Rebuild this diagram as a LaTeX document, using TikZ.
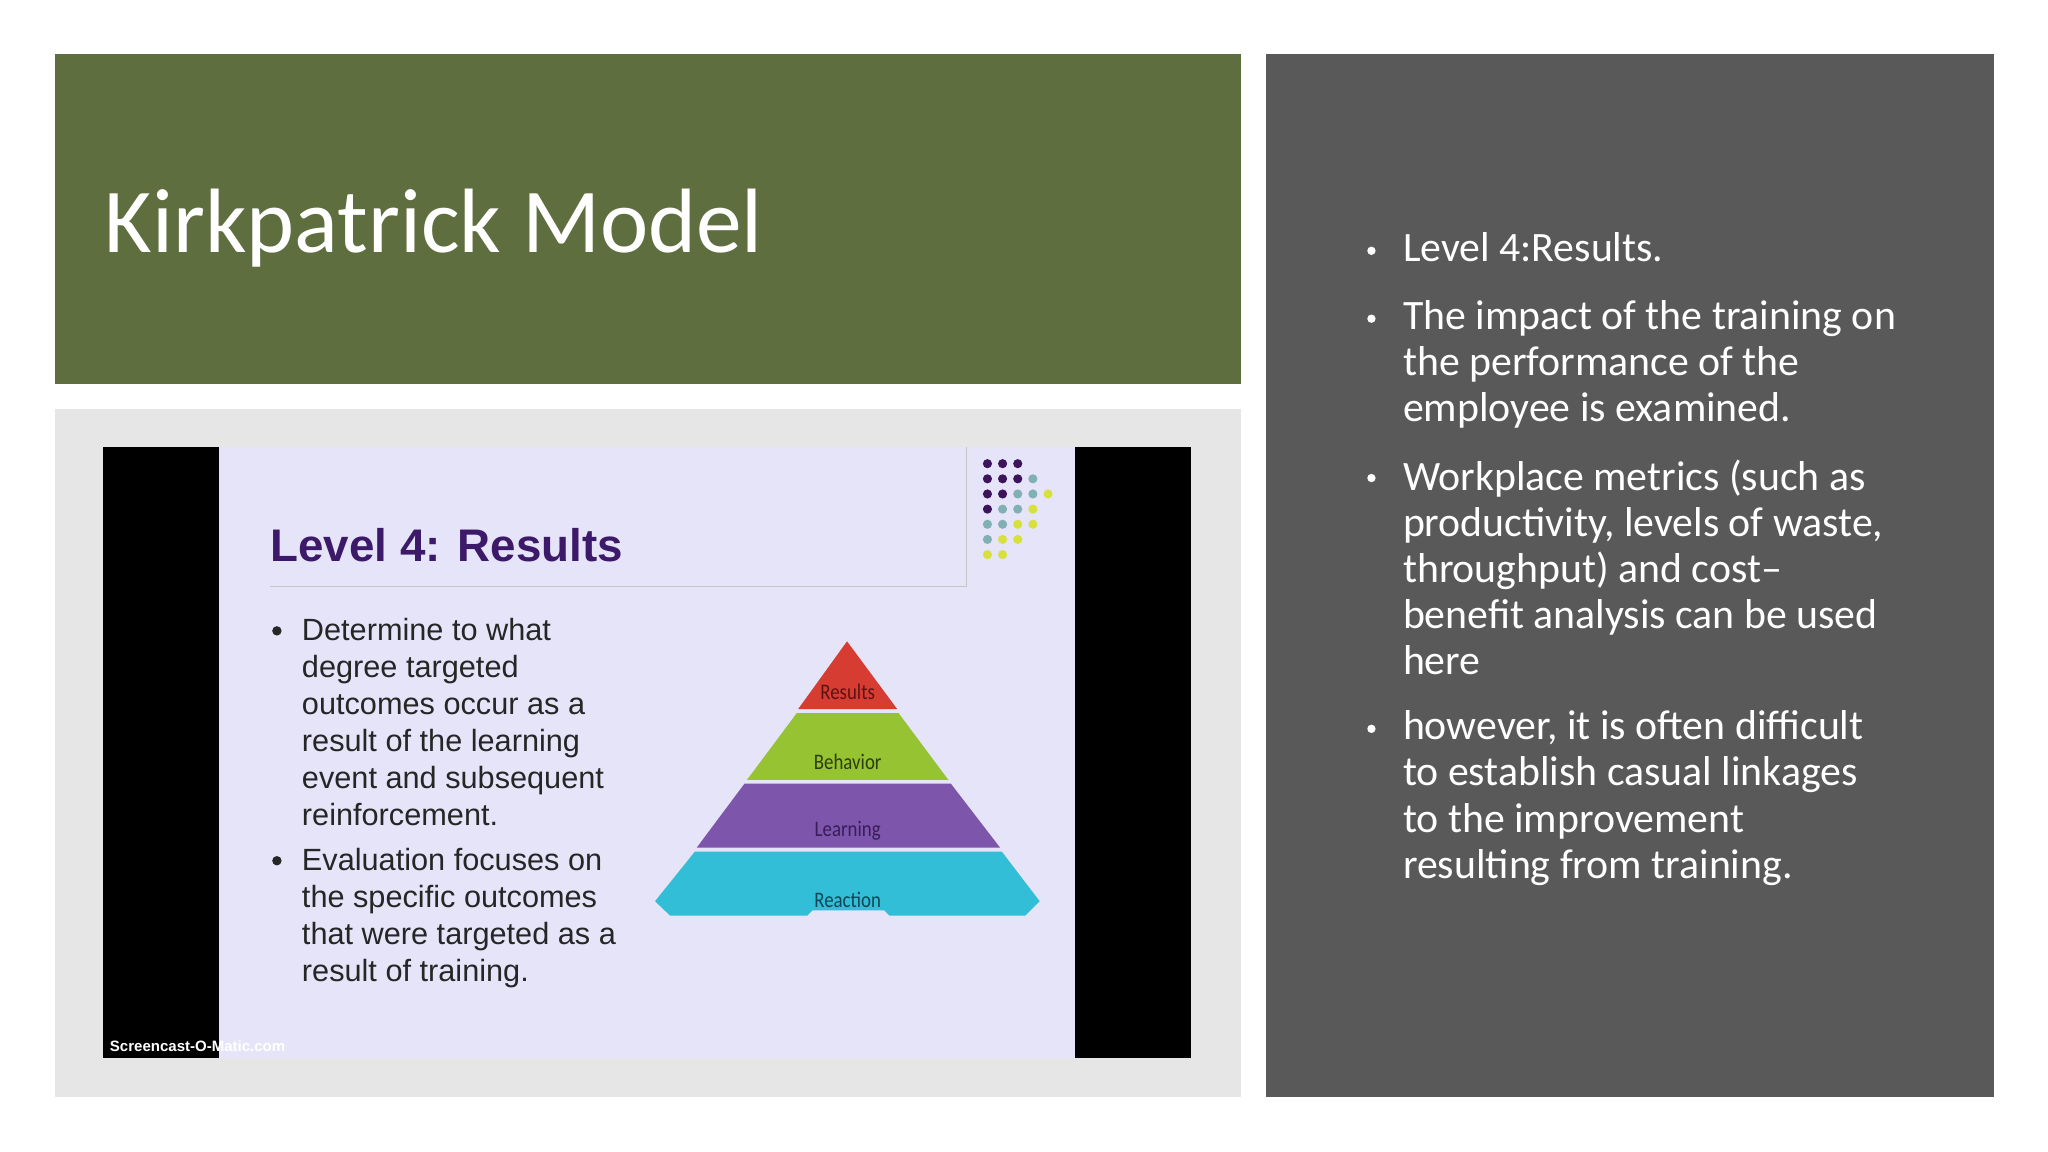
\documentclass[tikz,border=0pt]{standalone}
\usepackage{fontspec}
\setmainfont{Carlito}
\newfontfamily\arialf{Liberation Sans}
\definecolor{dcP}{RGB}{60,20,90}
\definecolor{dcT}{RGB}{130,175,180}
\definecolor{dcY}{RGB}{215,225,60}
\begin{document}
\begin{tikzpicture}[x=1pt,y=-1pt,
  wtxt/.style={text=white,anchor=north west,inner sep=0pt,align=left,font=\fontsize{32}{35.3}\selectfont},
  stxt/.style={text=black!85,anchor=north west,inner sep=0pt,align=left,font=\arialf\fontsize{23.5}{28.3}\selectfont},
  plab/.style={inner sep=0pt,font=\fontsize{17}{17}\selectfont,xscale=0.85},
  dot/.style={circle,inner sep=0pt,minimum size=7pt}]
\useasboundingbox (0,0) rectangle (1568,882);
\fill[white] (0,0) rectangle (1568,882);
% panels
\fill[fill={rgb,255:red,94;green,110;blue,62}] (42,41) rectangle (950,294);
\node[text=white,anchor=base west,inner sep=0pt,font=\fontsize{70}{70}\selectfont] (title) at (80,193) {Kirkpatrick Model};
\fill[fill={rgb,255:red,230;green,230;blue,230}] (42,313) rectangle (950,840);
\fill[fill={rgb,255:red,89;green,89;blue,89}] (969,41) rectangle (1527,840);
% screenshot
\fill[black] (79,342) rectangle (912,810);
\fill[fill={rgb,255:red,230;green,228;blue,248}] (168,342) rectangle (823,810);
\draw[gray!45,line width=1pt] (207,449) -- (740,449) -- (740,342);
\node[text={rgb,255:red,60;green,25;blue,105},anchor=base west,inner sep=0pt,font=\arialf\bfseries\fontsize{35}{35}\selectfont] (st) at (207,430) {Level 4: Results};
% dots
\foreach \r/\cs in {0/{P,P,P},1/{P,P,P,T},2/{P,P,T,T,Y},3/{P,T,T,Y},4/{T,T,Y,Y},5/{T,Y,Y},6/{Y,Y}}{
  \foreach \c [count=\i from 0] in \cs {
    \node[dot,fill=dc\c] (d\r\i) at ({756+11.6*\i},{355+11.6*\r}) {};
  }}
% slide bullets
\foreach \y in {483,659}{\fill[black!85] (212,\y) circle (3.6pt);}
\node[stxt] (b1) at (231,473) {Determine to what\\degree targeted\\outcomes occur as a\\result of the learning\\event and subsequent\\reinforcement.};
\node[stxt] (b2) at (231,649) {Evaluation focuses on\\the specific outcomes\\that were targeted as a\\result of training.};
% pyramid
\fill[fill={rgb,255:red,215;green,60;blue,50}] (648.5,491) -- (687,543) -- (611,543) -- cycle;
\fill[fill={rgb,255:red,150;green,195;blue,50}] (610,546) -- (688,546) -- (726,597) -- (572,597) -- cycle;
\fill[fill={rgb,255:red,125;green,85;blue,170}] (570,600) -- (728,600) -- (765.7,649) -- (533.4,649) -- cycle;
\fill[fill={rgb,255:red,50;green,190;blue,215}] (532,652) -- (767,652) -- (796,690) -- (785,701) -- (681,701) -- (677,697) -- (622,697) -- (618,701) -- (513,701) -- (501.5,690) -- cycle;
\node[plab,text={rgb,255:red,90;green,20;blue,20}] (p1) at (649,530) {Results};
\node[plab,text={rgb,255:red,45;green,60;blue,15}] (p2) at (649,583) {Behavior};
\node[plab,text={rgb,255:red,55;green,30;blue,90}] (p3) at (649,636) {Learning};
\node[plab,text={rgb,255:red,15;green,70;blue,85}] (p4) at (649,689) {Reaction};
\node[text=white,anchor=west,inner sep=0pt,font=\arialf\bfseries\fontsize{11.5}{11.5}\selectfont] (wm) at (84,801) {Screencast-O-Matic.com};
% right bullets
\foreach \y in {192,244,366,558}{\fill[white] (1050,\y) circle (3.2pt);}
\node[wtxt] (r1) at (1074,178) {Level 4:Results.};
\node[wtxt] (r2) at (1074,230) {The impact of the training on\\the performance of the\\employee is examined.};
\node[wtxt] (r3) at (1074,352) {Workplace metrics (such as\\productivity, levels of waste,\\throughput) and cost–\\benefit analysis can be used\\here};
\node[wtxt] (r4) at (1074,544) {however, it is often difficult\\to establish casual linkages\\to the improvement\\resulting from training.};
\end{tikzpicture}
\end{document}
